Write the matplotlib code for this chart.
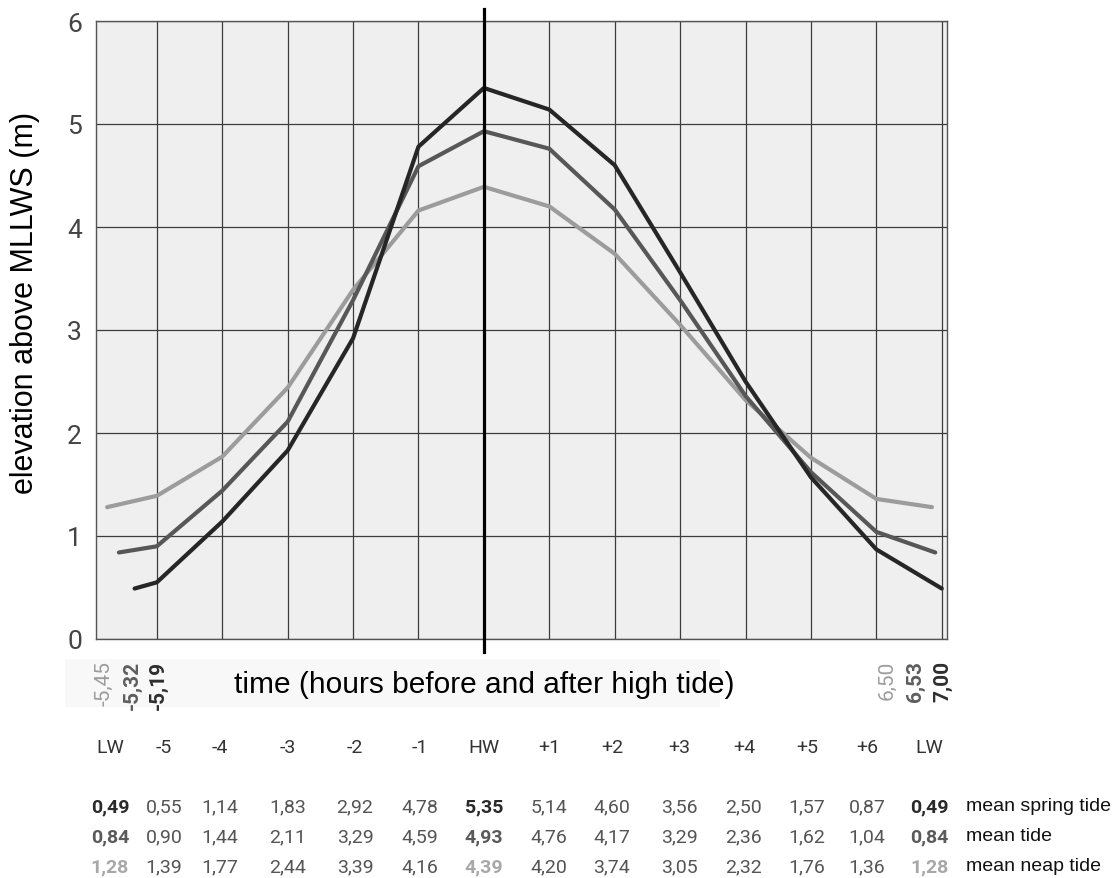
import numpy as np
import matplotlib
matplotlib.use('Agg')
import matplotlib.pyplot as plt
from matplotlib.patches import Rectangle

# tide table (m above MLLWS)
col_labels = ['LW', '-5', '-4', '-3', '-2', '-1', 'HW', '+1', '+2', '+3', '+4', '+5', '+6', 'LW']
hours = [-5, -4, -3, -2, -1, 0, 1, 2, 3, 4, 5, 6]
spring = [0.49, 0.55, 1.14, 1.83, 2.92, 4.78, 5.35, 5.14, 4.60, 3.56, 2.50, 1.57, 0.87, 0.49]
mean = [0.84, 0.90, 1.44, 2.11, 3.29, 4.59, 4.93, 4.76, 4.17, 3.29, 2.36, 1.62, 1.04, 0.84]
neap = [1.28, 1.39, 1.77, 2.44, 3.39, 4.16, 4.39, 4.20, 3.74, 3.05, 2.32, 1.76, 1.36, 1.28]
names = ['mean spring tide', 'mean tide', 'mean neap tide']

# low water times as written under the axis
lw_before = [-5.45, -5.32, -5.19]   # neap, mean, spring
lw_after = [6.50, 6.53, 7.00]
# where the low water ends of the curves are drawn
lw_drawn = {'spring': (-5.34, 7.00), 'mean': (-5.58, 6.90), 'neap': (-5.76, 6.85)}

c_spring, c_mean, c_neap = '#262626', '#575757', '#9c9c9c'

W, H = 1116, 879
fig = plt.figure(figsize=(W / 100, H / 100), dpi=100)
ax = fig.add_axes([96 / W, 1 - 640 / H, (947 - 96) / W, (640 - 22) / H])
ax.set_facecolor('#efefef')

# faint strip behind the x label (as in the scan)
fig.add_artist(Rectangle((65 / W, 1 - 708 / H), 655 / W, 48 / H, transform=fig.transFigure,
                         facecolor='#f8f8f8', edgecolor='none', zorder=0))

ax.set_xlim(-5.93, 7.08)
ax.set_ylim(0, 6)
ax.set_xticks(range(-5, 8))
ax.set_xticklabels([])
ax.set_yticks(range(0, 7))
ax.tick_params(length=0)
ax.tick_params(axis='y', pad=10, labelsize=19, labelcolor='#444444')
for lab in ax.get_yticklabels():
    lab.set_family('Roboto')
ax.grid(True, color='#3c3c3c', lw=0.9)
ax.set_axisbelow(True)
for s in ax.spines.values():
    s.set_color('#555555')
    s.set_linewidth(1.0)

for key, vals, col in [('neap', neap, c_neap), ('mean', mean, c_mean), ('spring', spring, c_spring)]:
    t0, t1 = lw_drawn[key]
    x = [t0] + hours + [t1]
    ax.plot(x, vals, color=col, lw=3.0, solid_capstyle='round', solid_joinstyle='round', zorder=3)

# high water line
ax.axvline(0, ymin=-0.021, ymax=1.02, color='black', lw=2.3, clip_on=False, zorder=4)

fig.text(25 / W, 1 - 303 / H, 'elevation above MLLWS (m)', rotation=90, ha='center', va='center',
         family='Liberation Sans', fontsize=22)
fig.text(484 / W, 1 - 685 / H, 'time (hours before and after high tide)', family='Liberation Sans',
         fontsize=21.5, ha='center', va='center')

# low water times, rotated
lw_cols = [c_neap, '#5e5e5e', '#2e2e2e']
lw_weights = ['normal', 'bold', 'bold']
for xs, vals in [([104, 132, 158], lw_before), ([887, 915, 943], lw_after)]:
    for xp, v, c, w in zip(xs, vals, lw_cols, lw_weights):
        fig.text(xp / W, 1 - 661 / H, f'{v:.2f}'.replace('.', ','), rotation=90, ha='center', va='top',
                 family='Roboto', fontsize=15, color=c, weight=w)

# table under the chart
col_x = [110, 164, 220, 288, 355, 420, 484, 549, 612, 679, 744, 807, 867, 929]
for xp, lab in zip(col_x, col_labels):
    fig.text(xp / W, 1 - 748 / H, lab, ha='center', va='center', family='Roboto', fontsize=14, color='#333333')

row_y = [807, 837, 867]
row_strong = ['#2a2a2a', '#5a5a5a', '#a8a8a8']
for yp, vals, sc, name in zip(row_y, [spring, mean, neap], row_strong, names):
    for i, (xp, v) in enumerate(zip(col_x, vals)):
        key = col_labels[i] in ('LW', 'HW')
        fig.text(xp / W, 1 - yp / H, f'{v:.2f}'.replace('.', ','), ha='center', va='center',
                 family='Roboto', fontsize=14, color=sc if key else '#555555',
                 weight='bold' if key else 'normal')
    fig.text(966 / W, 1 - yp / H, name, ha='left', va='center', family='Liberation Sans',
             fontsize=14, color='#111111')

fig.savefig('out.png', dpi=100)
